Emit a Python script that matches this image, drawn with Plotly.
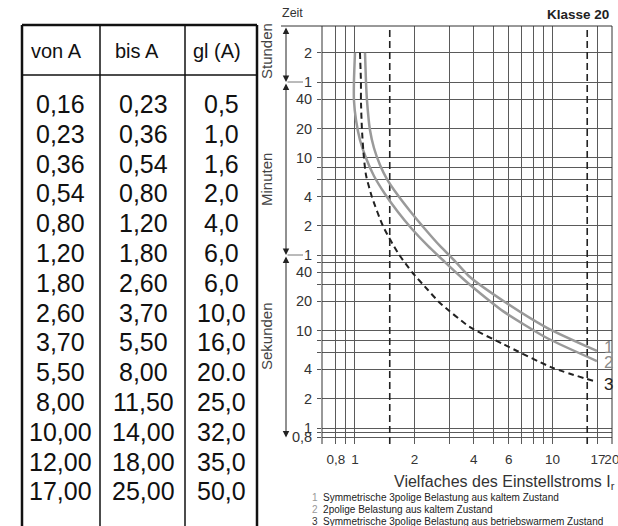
import math
import plotly.graph_objects as go

W, H = 618, 526

# ---------------- table data ----------------
table_header = ["von A", "bis A", "gl (A)"]
von_a = ["0,16", "0,23", "0,36", "0,54", "0,80", "1,20", "1,80", "2,60",
         "3,70", "5,50", "8,00", "10,00", "12,00", "17,00"]
bis_a = ["0,23", "0,36", "0,54", "0,80", "1,20", "1,80", "2,60", "3,70",
         "5,50", "8,00", "11,50", "14,00", "18,00", "25,00"]
gl_a = ["0,5", "1,0", "1,6", "2,0", "4,0", "6,0", "6,0", "10,0",
        "16,0", "20.0", "25,0", "32,0", "35,0", "50,0"]

# ---------------- curve data (multiple of I_r, trip time in seconds) ----------------
curve1_mult = [1.124, 1.137, 1.15, 1.191, 1.248, 1.339, 1.452, 1.632, 1.899, 2.262,
               2.694, 3.208, 3.822, 5.747, 9.38, 16.8]
curve1_time = [7200, 3600, 2350, 1155, 755, 505, 362, 254, 170, 111,
               74.3, 52.0, 35.6, 19.7, 10.7, 6.19]
curve2_mult = [1.0, 0.988, 0.988, 1.012, 1.06, 1.137, 1.248, 1.419, 1.651, 1.944,
               2.342, 2.855, 3.401, 4.052, 5.616, 9.38, 16.8]
curve2_time = [7200, 3600, 2350, 1463, 912, 596, 389, 254, 166, 111,
               74.3, 50.8, 36.5, 26.8, 15.9, 8.41, 4.88]
curve3_mult = [1.06, 1.072, 1.072, 1.085, 1.11, 1.137, 1.219, 1.386, 1.651, 1.944,
               2.342, 2.694, 3.822, 5.616, 10.06, 16.8]
curve3_time = [7200, 3600, 2350, 1155, 596, 398, 237, 119, 62.9, 40.1,
               26.2, 19.3, 10.9, 7.30, 4.14, 2.97]
curve_labels = ["1", "2", "3"]

legend_texts = ["Symmetrische 3polige Belastung aus kaltem Zustand",
                "2polige Belastung aus kaltem Zustand",
                "Symmetrische 3polige Belastung aus betriebswarmem Zustand"]

# ---------------- axes ----------------
x_tick_vals = [0.8, 1, 2, 4, 6, 10, 17, 20]
x_tick_text = ["0,8", "1", "2", "4", "6", "10", "17", "20"]
x_minor_vals = [0.9, 3, 5, 7, 8, 9]
y_tick_vals = [7200, 3600, 2400, 1200, 600, 240, 120, 60, 40, 20, 10, 4, 2, 1, 0.8]
y_tick_text = ["2", "1", "40", "20", "10", "4", "2", "1", "40", "20", "10", "4", "2", "1", "0,8"]
y_minor_vals = [480, 360, 50, 30, 8, 6, 0.9]
limit_multiples = [1.5, 15]
unit_bounds = [3600, 60]          # 1 hour, 1 minute
x_range = [-0.167, 1.3016]
y_range = [-0.1645, 4.132]

def px(x):
    return x / W

def py(y):
    return 1 - y / H

FONT = "Liberation Sans, Arial, sans-serif"
GRID = "#5a5a5a"
fig = go.Figure()

# dashed vertical limit lines
for m in limit_multiples:
    fig.add_trace(go.Scatter(x=[m, m], y=[10 ** y_range[0], 10 ** y_range[1]], mode="lines",
                             line=dict(color="#222", width=1.6, dash="7px,4px"),
                             hoverinfo="skip", showlegend=False))

curves = [(curve1_mult, curve1_time, "#9a9a9a", "solid", 2.5),
          (curve2_mult, curve2_time, "#9a9a9a", "solid", 2.5),
          (curve3_mult, curve3_time, "#222222", "6px,4px", 2.0)]
for xs, ys, col, dash, w in curves:
    fig.add_trace(go.Scatter(x=xs, y=ys, mode="lines",
                             line=dict(color=col, width=w, dash=dash, shape="spline", smoothing=0.6),
                             hoverinfo="skip", showlegend=False))

ann = []
# curve labels
label_cols = ["#8a8a8a", "#8a8a8a", "#222"]
label_shift = [3, -1, -2]
for i, (xs, ys, _, _, _) in enumerate(curves):
    ann.append(dict(x=math.log10(xs[-1]), y=math.log10(ys[-1]), xref="x", yref="y",
                    text=curve_labels[i], showarrow=False, xanchor="left", yanchor="middle",
                    xshift=5, yshift=label_shift[i],
                    font=dict(size=17, color=label_cols[i], family=FONT)))

# table text
col_cx = [61, 143, 221]
head_cx = [56, 137, 217]
for j, h in enumerate(table_header):
    ann.append(dict(x=px(head_cx[j]), y=py(51), xref="paper", yref="paper", text=h,
                    xanchor="center", yanchor="middle", showarrow=False,
                    font=dict(size=20, color="#111", family=FONT)))
for i in range(len(von_a)):
    yy = 104 + i * 29.8
    for j, col in enumerate([von_a, bis_a, gl_a]):
        ann.append(dict(x=px(col_cx[j]), y=py(yy), xref="paper", yref="paper", text=col[i],
                        xanchor="center", yanchor="middle", showarrow=False,
                        font=dict(size=25, color="#111", family=FONT)))

# time unit arrows
x_arrow = px(286)
bounds = [10 ** y_range[1]] + unit_bounds + [0.8]
for k in range(3):
    ann.append(dict(x=x_arrow, xref="paper", y=math.log10(bounds[k + 1]), yref="y",
                    ax=0, axref="pixel", ay=math.log10(bounds[k]), ayref="y",
                    showarrow=True, arrowhead=2, arrowside="end+start", arrowsize=1.3,
                    arrowwidth=1, arrowcolor="#222", text="", standoff=0, startstandoff=0))
for b in unit_bounds:
    ann.append(dict(x=px(303), xref="paper", y=math.log10(b), yref="y", ax=-17, ay=0,
                    showarrow=True, arrowhead=0, arrowwidth=1, arrowcolor="#777", text=""))

unit_labels = [("Stunden", 51), ("Minuten", 180), ("Sekunden", 336)]
for t, yy in unit_labels:
    ann.append(dict(x=px(266), y=py(yy), xref="paper", yref="paper", text=t, textangle=-90,
                    xanchor="center", yanchor="middle", showarrow=False,
                    font=dict(size=15, color="#444", family=FONT)))

ann.append(dict(x=px(292), y=py(13), xref="paper", yref="paper", text="Zeit", showarrow=False,
                xanchor="center", yanchor="middle", font=dict(size=12.5, color="#333", family=FONT)))
ann.append(dict(x=px(611), y=py(15), xref="paper", yref="paper", text="<b>Klasse 20</b>",
                xanchor="right", yanchor="middle", showarrow=False,
                font=dict(size=13.5, color="#222", family=FONT)))
ann.append(dict(x=px(392), y=py(482), xref="paper", yref="paper", xanchor="left", yanchor="middle",
                text="Vielfaches des Einstellstroms I<sub>r</sub>", showarrow=False,
                font=dict(size=16, color="#333", family=FONT)))
for i, t in enumerate(legend_texts):
    ann.append(dict(x=px(310), y=py(497 + 12 * i), xref="paper", yref="paper",
                    xanchor="left", yanchor="middle",
                    text=f"<span style='color:{'#999' if i < 2 else '#333'}'>{curve_labels[i]}</span>  {t}",
                    showarrow=False, font=dict(size=10, color="#222", family=FONT)))

# table lines
shapes = []
tl, tr, tt, th = 22, 257, 25, 75
shapes.append(dict(type="line", xref="paper", yref="paper", x0=px(tl), x1=px(tl), y0=py(tt), y1=0,
                   line=dict(color="#111", width=2.5)))
shapes.append(dict(type="line", xref="paper", yref="paper", x0=px(tr), x1=px(tr), y0=py(tt), y1=0,
                   line=dict(color="#111", width=2.5)))
shapes.append(dict(type="line", xref="paper", yref="paper", x0=px(tl), x1=px(tr), y0=py(tt), y1=py(tt),
                   line=dict(color="#111", width=2.5)))
shapes.append(dict(type="line", xref="paper", yref="paper", x0=px(tl), x1=px(tr), y0=py(th), y1=py(th),
                   line=dict(color="#111", width=1.5)))
for cx in [100, 185]:
    shapes.append(dict(type="line", xref="paper", yref="paper", x0=px(cx), x1=px(cx), y0=py(tt), y1=0,
                       line=dict(color="#111", width=1.5)))
# plot frame (top, left, right)
for (x0, y0, x1, y1) in [(0, 1, 1, 1), (0, 0, 0, 1), (1, 0, 1, 1)]:
    shapes.append(dict(type="line", xref="x domain", yref="y domain", x0=x0, y0=y0, x1=x1, y1=y1,
                       line=dict(color="#333", width=1)))
shapes.append(dict(type="line", xref="paper", yref="paper", x0=px(281), x1=px(322), y0=py(26), y1=py(26),
                   line=dict(color="#333", width=1)))

fig.update_layout(
    width=W, height=H, margin=dict(l=0, r=0, t=0, b=0),
    paper_bgcolor="white", plot_bgcolor="white", showlegend=False,
    font=dict(family=FONT, color="#333"),
    annotations=ann, shapes=shapes,
    xaxis=dict(type="log", range=x_range, domain=[px(322), px(612)],
               tickmode="array", tickvals=x_tick_vals, ticktext=x_tick_text, tickangle=0,
               ticks="", ticklabelstandoff=5, ticklabeloverflow="allow",
               tickfont=dict(size=13.5, color="#333"),
               showgrid=True, gridcolor=GRID, gridwidth=1, zeroline=False, showline=False,
               automargin=False,
               minor=dict(tickmode="array", tickvals=x_minor_vals, showgrid=True,
                          gridcolor=GRID, gridwidth=1, ticks="")),
    yaxis=dict(type="log", range=y_range, domain=[py(444), py(26)],
               tickmode="array", tickvals=y_tick_vals, ticktext=y_tick_text,
               ticks="outside", ticklen=4, tickcolor="#555", ticklabelstandoff=2,
               tickfont=dict(size=14.5, color="#333"), automargin=False,
               showgrid=True, gridcolor=GRID, gridwidth=1, zeroline=False, showline=False,
               minor=dict(tickmode="array", tickvals=y_minor_vals, showgrid=True,
                          gridcolor=GRID, gridwidth=1, ticks="outside", ticklen=4, tickcolor="#555")),
)

fig.write_html("out.html", config={"displayModeBar": False},
               post_script="document.body.style.margin='0';")
